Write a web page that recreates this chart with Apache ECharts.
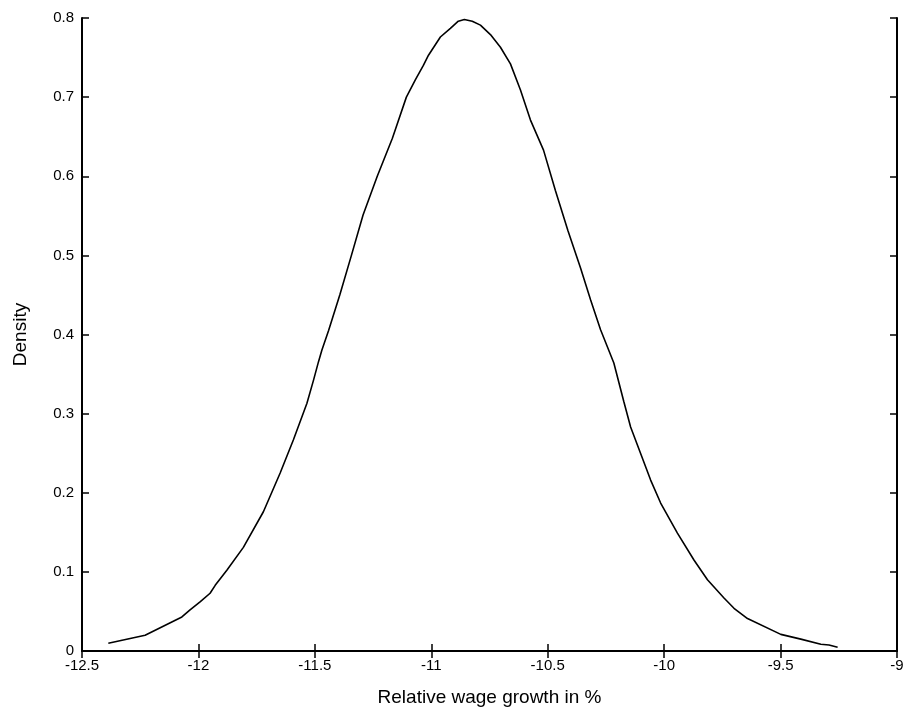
<!DOCTYPE html>
<html>
<head>
<meta charset="utf-8">
<script src="https://cdn.jsdelivr.net/npm/echarts@6/dist/echarts.min.js"></script>
<style>html,body{margin:0;padding:0;background:#fff}#c{width:907px;height:715px}</style>
</head>
<body>
<div id="c"></div>
<script>
const growth = [-12.387,-12.229,-12.071,-12.036,-11.993,-11.950,-11.928,-11.878,-11.807,-11.721,-11.649,-11.592,-11.534,-11.506,-11.484,-11.470,-11.441,-11.393,-11.343,-11.293,-11.232,-11.167,-11.107,-11.068,-11.034,-11.012,-10.961,-10.918,-10.884,-10.858,-10.824,-10.789,-10.746,-10.703,-10.660,-10.617,-10.574,-10.518,-10.467,-10.413,-10.359,-10.316,-10.273,-10.216,-10.173,-10.144,-10.058,-10.015,-9.943,-9.872,-9.814,-9.743,-9.700,-9.642,-9.499,-9.413,-9.327,-9.292,-9.255];
const density = [0.0097,0.020,0.043,0.052,0.062,0.073,0.083,0.102,0.131,0.176,0.225,0.267,0.313,0.342,0.366,0.380,0.405,0.450,0.500,0.551,0.600,0.648,0.700,0.722,0.740,0.753,0.776,0.787,0.796,0.798,0.796,0.791,0.779,0.763,0.742,0.709,0.671,0.633,0.582,0.531,0.484,0.444,0.406,0.364,0.315,0.283,0.216,0.187,0.149,0.115,0.090,0.067,0.054,0.041,0.021,0.015,0.0085,0.0076,0.0047];
const xTicks = ['-12.5','-12','-11.5','-11','-10.5','-10','-9.5','-9'];
const yTicks = ['0','0.1','0.2','0.3','0.4','0.5','0.6','0.7','0.8'];
const xName = 'Relative wage growth in %';
const yName = 'Density';

const chart = echarts.init(document.getElementById('c'), null, {renderer:'canvas'});
const font = 'Liberation Sans, Arial, sans-serif';
const axisLine = {show:true, lineStyle:{color:'#000', width:2}};
const tick = {show:true, inside:true, length:7, lineStyle:{color:'#000', width:1.5}};
const fmtX = v => { const s = String(Math.round(v*10)/10); return xTicks.includes(s) ? s : ''; };
const fmtY = v => { const s = String(Math.round(v*10)/10); return yTicks.includes(s) ? s : ''; };
chart.setOption({
  animation:false,
  backgroundColor:'#fff',
  grid:{left:82, right:10, top:18, bottom:64, containLabel:false},
  xAxis:[{
    type:'value', min:-12.5, max:-9, interval:0.5, position:'bottom',
    name:xName, nameLocation:'middle', nameGap:37,
    nameTextStyle:{fontFamily:font, fontSize:19, color:'#000'},
    axisLine:axisLine, axisTick:tick, splitLine:{show:false},
    axisLabel:{fontFamily:font, fontSize:15, color:'#000', margin:7, formatter:fmtX}
  },{
    type:'value', min:-12.5, max:-9, interval:0.5, position:'top',
    axisLine:axisLine, axisTick:tick, splitLine:{show:false}, axisLabel:{show:false}
  }],
  yAxis:[{
    type:'value', min:0, max:0.8, interval:0.1, position:'left',
    name:yName, nameLocation:'middle', nameGap:52,
    nameTextStyle:{fontFamily:font, fontSize:19, color:'#000'},
    axisLine:axisLine, axisTick:tick, splitLine:{show:false},
    axisLabel:{fontFamily:font, fontSize:15, color:'#000', margin:8, formatter:fmtY}
  },{
    type:'value', min:0, max:0.8, interval:0.1, position:'right',
    axisLine:axisLine, axisTick:tick, splitLine:{show:false}, axisLabel:{show:false}
  }],
  series:[{
    type:'line', xAxisIndex:0, yAxisIndex:0,
    data: growth.map((g,i)=>[g, density[i]]),
    showSymbol:false, smooth:false,
    lineStyle:{color:'#000', width:1.6}
  }]
});
</script>
</body>
</html>
